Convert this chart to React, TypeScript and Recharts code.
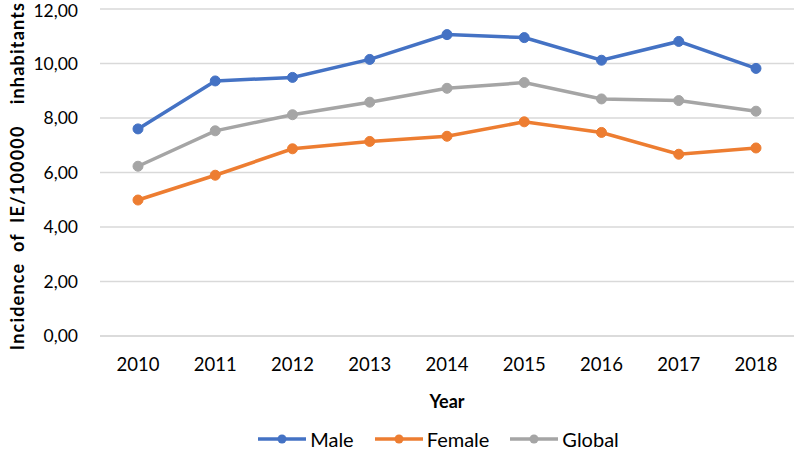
import { LineChart, Line, XAxis, YAxis, CartesianGrid, Legend, Label } from "recharts";

const years = ["2010", "2011", "2012", "2013", "2014", "2015", "2016", "2017", "2018"];
const male = [7.6, 9.36, 9.49, 10.15, 11.06, 10.95, 10.12, 10.81, 9.82];
const female = [4.99, 5.9, 6.87, 7.14, 7.33, 7.86, 7.47, 6.67, 6.9];
const global = [6.23, 7.53, 8.12, 8.58, 9.09, 9.3, 8.7, 8.64, 8.25];
const yTicks = [0, 2, 4, 6, 8, 10, 12];

const SERIES = [
  { key: "male", name: "Male", color: "#4472C4" },
  { key: "female", name: "Female", color: "#ED7D31" },
  { key: "global", name: "Global", color: "#A5A5A5" },
];

const data = years.map((year, i) => ({
  year,
  male: male[i],
  female: female[i],
  global: global[i],
}));

const FONT = "Lato, 'Open Sans', sans-serif";
const fmt = (v: number) => v.toFixed(2).replace(".", ",");

const YLabel = () => {
  const cx = 17;
  const cy = 176;
  return (
    <text
      x={cx}
      y={cy}
      transform={`rotate(-90, ${cx}, ${cy})`}
      textAnchor="middle"
      dominantBaseline="central"
      fontFamily={FONT}
      fontWeight="bold"
      fontSize={18}
      letterSpacing={1.2}
      wordSpacing={5}
      style={{ whiteSpace: "pre" }}
      fill="#000"
    >
      Incidence of IE/100000  inhabitants
    </text>
  );
};

const LegendContent = () => (
  <div style={{ display: "flex", justifyContent: "center", gap: 20, fontFamily: FONT, fontSize: 20, color: "#000", paddingLeft: 82 }}>
    {SERIES.map((s) => (
      <div key={s.key} style={{ display: "flex", alignItems: "center" }}>
        <svg width={50} height={14}>
          <line x1={1} y1={7} x2={49} y2={7} stroke={s.color} strokeWidth={3.5} />
          <circle cx={25} cy={7} r={4.5} fill={s.color} />
        </svg>
        <span style={{ marginLeft: 3 }}>{s.name}</span>
      </div>
    ))}
  </div>
);

const App = () => {
  return (
    <div style={{ position: "absolute", left: 0, top: 0, background: "#fff" }}>
      <LineChart width={796} height={451} data={data} margin={{ top: 9, right: 2, left: 0, bottom: 0 }}>
        <CartesianGrid vertical={false} stroke="#d9d9d9" strokeWidth={1.5} />
        <XAxis
          dataKey="year"
          height={91}
          padding={{ left: 38, right: 38 }}
          axisLine={{ stroke: "#d9d9d9", strokeWidth: 1.5 }}
          tickLine={false}
          tickMargin={16}
          tick={{ fontFamily: FONT, fontSize: 18.5, fill: "#000" }}
        >
          <Label
            value="Year"
            position="insideTop"
            offset={59}
            style={{ fontFamily: FONT, fontWeight: "bold", fontSize: 18, fill: "#000" }}
          />
        </XAxis>
        <YAxis
          width={100}
          domain={[0, 12]}
          ticks={yTicks}
          tickFormatter={fmt}
          axisLine={false}
          tickLine={false}
          tickMargin={16}
          tick={{ fontFamily: FONT, fontSize: 17.5, fill: "#000" }}
        >
          <Label content={YLabel} />
        </YAxis>
        <Legend verticalAlign="bottom" height={24} wrapperStyle={{ height: 24 }} content={LegendContent} />
        {SERIES.map((s) => (
          <Line
            key={s.key}
            type="linear"
            dataKey={s.key}
            name={s.name}
            stroke={s.color}
            strokeWidth={3.5}
            dot={{ r: 5, fill: s.color, stroke: s.color, strokeWidth: 1 }}
            isAnimationActive={false}
          />
        ))}
      </LineChart>
    </div>
  );
};

export default App;
